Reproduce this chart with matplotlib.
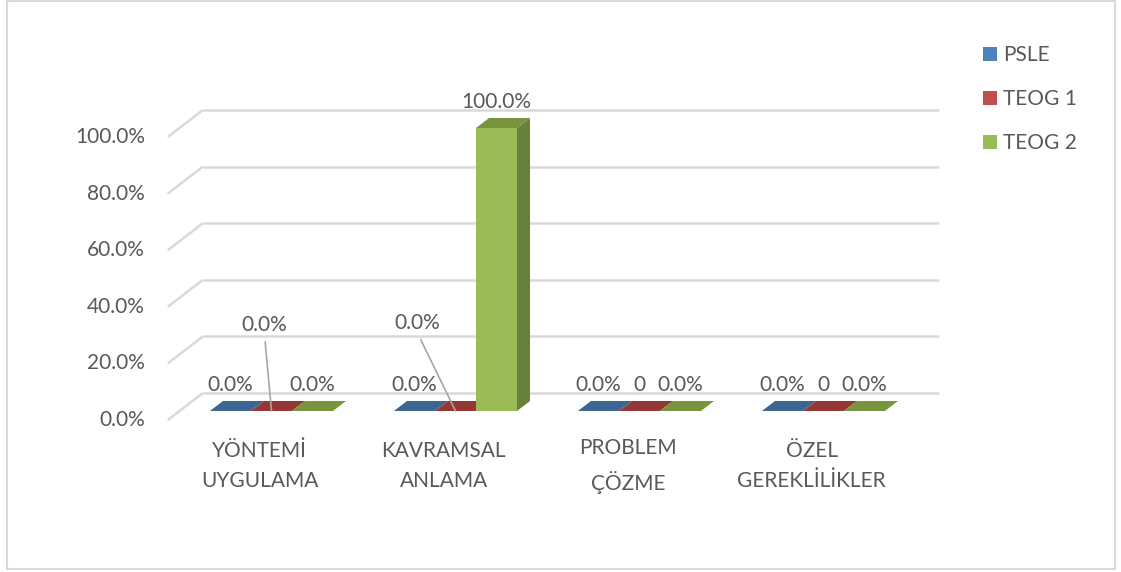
import matplotlib
matplotlib.use("Agg")
import matplotlib.pyplot as plt
from matplotlib.patches import Polygon, Rectangle, Patch

plt.rcParams['font.family'] = ['Lato', 'DejaVu Sans']

# ---- data -------------------------------------------------------------
categories = ["YÖNTEMİ\nUYGULAMA", "KAVRAMSAL\nANLAMA", "PROBLEM\nÇÖZME", "ÖZEL\nGEREKLİLİKLER"]
series = ["PSLE", "TEOG 1", "TEOG 2"]
psle = [0.0, 0.0, 0.0, 0.0]
teog1 = [0.0, 0.0, 0.0, 0.0]
teog2 = [0.0, 1.0, 0.0, 0.0]
labels_psle = ["0.0%", "0.0%", "0.0%", "0.0%"]
labels_teog1 = ["0.0%", "0.0%", "0", "0"]
labels_teog2 = ["0.0%", "100.0%", "0.0%", "0.0%"]
yticks = [0.0, 0.2, 0.4, 0.6, 0.8, 1.0]
ytick_labels = ["0.0%", "20.0%", "40.0%", "60.0%", "80.0%", "100.0%"]

# ---- styling ----------------------------------------------------------
front_colors = ["#4f81bd", "#c0504d", "#9bbb59"]
top_colors = ["#3c6594", "#953735", "#78953d"]
side_colors = ["#34567f", "#7e2e2c", "#67803a"]
grid_color = "#d9d9d9"
text_color = "#595959"
FS = 15

W, H = 1121, 572
fig = plt.figure(figsize=(W / 100, H / 100), dpi=100)
ax = fig.add_axes([179.5 / W, 161 / H, 736 / W, 283 / H])
ax.set_xlim(-0.5, len(categories) - 0.5)
ax.set_ylim(0, 1)
ax.axis("off")

# pixels per data unit, used for the oblique depth projection
p0 = ax.transData.transform((0, 0))
p1 = ax.transData.transform((1, 1))
sx, sy = p1[0] - p0[0], p1[1] - p0[1]
SLANT = 1.3  # horizontal shift per pixel of depth


def proj(x, v, d):
    """Point (x, v) pushed back by d pixels of depth."""
    return (x + SLANT * d / sx, v + d / sy)


D_BACK = 18     # back wall
D_FRONT = -9    # front edge of the floor / side wall
D_BAR = 10      # bar depth

# back wall and side wall gridlines
xl, xr = -0.5, len(categories) - 0.5
for t in yticks:
    a = proj(xl, t, D_BACK)
    b = proj(xr, t, D_BACK)
    c = proj(xl, t, D_FRONT)
    ax.plot([a[0], b[0]], [a[1], b[1]], color=grid_color, lw=1.8,
            solid_capstyle="butt", clip_on=False, zorder=1)
    ax.plot([c[0], a[0]], [c[1], a[1]], color=grid_color, lw=1.8,
            solid_capstyle="butt", clip_on=False, zorder=1)

for t, lab in zip(yticks, ytick_labels):
    c = proj(xl, t, D_FRONT)
    ax.annotate(lab, xy=c, xytext=(-23, 0), textcoords="offset pixels",
                ha="right", va="center", fontsize=FS, color=text_color,
                annotation_clip=False)

# bars
bw = 41 / sx
values = [psle, teog1, teog2]
labels = [labels_psle, labels_teog1, labels_teog2]
# label offsets in pixels (relative to bar centre / top) for labels moved aside
label_offsets = {(0, 1): (-7, 86), (1, 1): (-38, 88)}

for i in range(len(categories)):
    for s in range(len(series)):
        v = values[s][i]
        x0 = i + (s - 1.5) * bw
        x1 = x0 + bw
        z = 3 + i * 0.1 + s * 0.01
        if v > 0:
            ax.add_patch(Rectangle((x0, 0), bw, v, facecolor=front_colors[s],
                                   edgecolor="none", clip_on=False, zorder=z))
            side = [(x1, 0), (x1, v), proj(x1, v, D_BAR), proj(x1, 0, D_BAR)]
            ax.add_patch(Polygon(side, closed=True, facecolor=side_colors[s],
                                 edgecolor="none", clip_on=False, zorder=z))
        top = [(x0, v), (x1, v), proj(x1, v, D_BAR), proj(x0, v, D_BAR)]
        ax.add_patch(Polygon(top, closed=True, facecolor=top_colors[s],
                             edgecolor="none", clip_on=False, zorder=z))

        xc = (x0 + x1) / 2
        if (i, s) in label_offsets:
            ox, oy = label_offsets[(i, s)]
            ax.annotate(labels[s][i], xy=(xc, v), xytext=(ox, oy),
                        textcoords="offset pixels", ha="center", va="center",
                        fontsize=FS, color=text_color, annotation_clip=False,
                        zorder=10,
                        arrowprops=dict(arrowstyle="-", color="#a6a6a6", lw=1.2,
                                        relpos=(0.5, 0.0), shrinkA=3, shrinkB=0))
        else:
            ax.annotate(labels[s][i], xy=(xc, v), xytext=(0, 26),
                        textcoords="offset pixels", ha="center", va="center",
                        fontsize=FS, color=text_color, annotation_clip=False,
                        zorder=10)

# category labels along the front edge of the floor
for i, cat in enumerate(categories):
    c = proj(i, 0, D_FRONT)
    ax.annotate(cat, xy=c, xytext=(0, -46), textcoords="offset pixels",
                ha="center", va="center", fontsize=FS, color=text_color,
                linespacing=1.66, multialignment="center",
                annotation_clip=False)

# legend
handles = [Patch(facecolor=c, edgecolor="none") for c in front_colors]
fig.legend(handles, series, loc="upper left",
           bbox_to_anchor=(983 / W, 1 - 45 / H), frameon=False,
           fontsize=FS, labelcolor=text_color, handlelength=0.65,
           handleheight=0.65, handletextpad=0.32, labelspacing=1.15,
           borderpad=0, borderaxespad=0)

# outer chart border
fig.patches.append(Rectangle((6.5 / W, 3 / H), (1115 - 6.5) / W, (571 - 3) / H,
                             transform=fig.transFigure, fill=False,
                             edgecolor=grid_color, lw=1.5))

fig.savefig("out.png", dpi=100, facecolor="white")
